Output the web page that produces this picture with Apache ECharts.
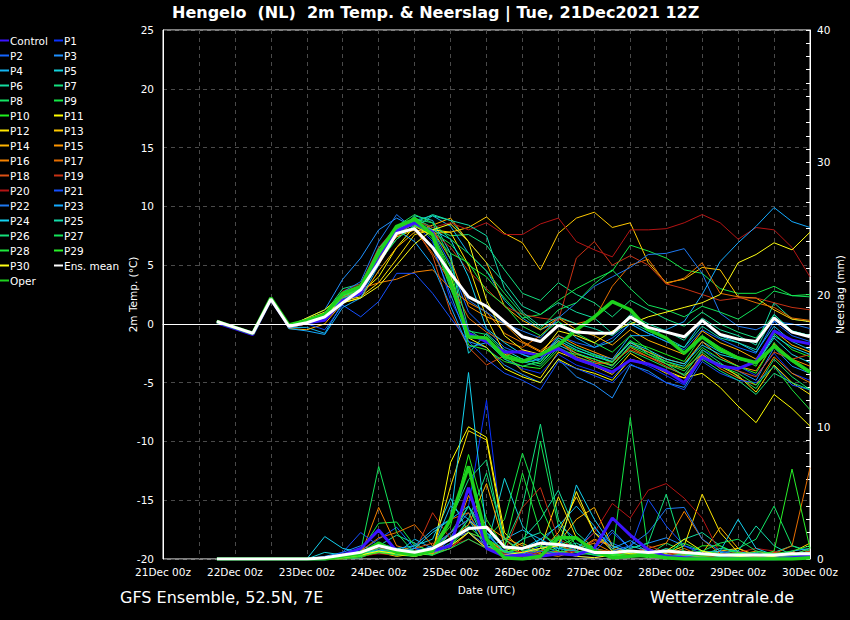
<!DOCTYPE html>
<html><head><meta charset="utf-8">
<script src="https://cdn.jsdelivr.net/npm/echarts@6.0.0/dist/echarts.min.js"></script>
<style>html,body{margin:0;padding:0;background:#000;overflow:hidden}#c{width:850px;height:620px}</style>
</head><body><div id="c"></div>
<script>
// ---- axis / category data ----
const days = ['21Dec','22Dec','23Dec','24Dec','25Dec','26Dec','27Dec','28Dec','29Dec','30Dec'];
const hours = ['00z','06z','12z','18z'];
const leadNulls = [null, null, null]; // 21Dec 00z..12z: no forecast yet (run 21Dec 12Z)

// ---- 2m temperature (°C), 6-hourly from 21Dec 18z to 30Dec 00z ----
const T_Control = [0.1,-0.4,-0.9,2.1,-0.2,0.1,0.3,2.0,2.6,5.8,7.9,8.6,7.8,3.5,-0.8,-1.5,-2.4,-2.4,-2.7,-2.1,-3.0,-3.5,-4.1,-3.1,-3.4,-4.0,-5.0,-2.8,-3.6,-3.8,-3.2,-0.6,-1.4,-1.7];
const T_P1 = [0.2,-0.3,-0.8,2.2,-0.3,0.2,0.6,2.5,3.0,6.5,8.0,8.5,7.0,2.0,-0.9,-1.3,-3.0,-3.8,-4.2,-2.6,-3.5,-4.0,-4.6,-3.0,-3.6,-4.4,-5.2,-2.2,-3.0,-3.6,-4.4,-2.5,-4.2,-4.8];
const T_P2 = [0.2,-0.3,-0.8,2.2,-0.2,0.0,0.3,2.2,3.2,6.0,8.0,9.0,8.0,5.0,1.0,-0.5,-2.0,-2.6,-3.0,-1.0,-1.6,-2.0,-1.2,0.0,-0.8,-1.5,-2.2,-0.5,-1.3,-2.0,-2.5,0.2,-1.0,-1.5];
const T_P3 = [0.1,-0.4,-0.9,2.1,-0.2,0.5,1.2,3.8,5.6,8.0,9.0,8.2,6.5,2.5,-1.5,-2.0,-3.5,-4.3,-5.0,-3.0,-4.5,-5.2,-6.3,-3.5,-4.0,-5.0,-5.4,-2.8,-3.4,-4.0,-4.8,-2.0,-3.6,-4.2];
const T_P4 = [0.2,-0.3,-0.8,2.2,-0.3,-0.3,-0.8,1.8,2.5,5.2,7.8,8.8,9.2,8.3,6.0,4.5,2.0,0.5,-0.5,0.2,-1.2,-2.0,-1.5,0.0,-0.8,-1.5,-2.0,0.2,-1.0,-1.6,-2.4,-0.2,-1.5,-2.2];
const T_P5 = [0.2,-0.3,-0.8,2.2,-0.2,0.1,0.5,2.6,3.0,5.5,7.5,9.2,8.8,6.0,-2.5,-0.8,-2.2,-3.0,-3.4,-1.8,-2.5,-3.0,-3.6,-1.8,-2.4,-3.2,-3.6,-1.5,-2.4,-2.8,-3.4,-1.2,-2.6,-3.3];
const T_P6 = [0.2,-0.3,-0.8,2.2,-0.2,0.2,0.6,2.4,3.0,6.0,7.5,8.6,9.3,8.8,7.0,5.2,3.5,1.5,0.8,1.8,1.0,0.5,-0.8,0.8,0.0,-0.6,-1.4,0.5,-0.5,-1.0,-1.8,1.8,0.4,0.2];
const T_P7 = [0.2,-0.3,-0.8,2.2,-0.1,0.4,0.9,3.0,3.4,6.4,8.1,9.0,8.2,7.5,7.6,6.7,4.6,2.6,2.0,3.5,2.5,1.8,0.6,2.0,1.2,0.4,-0.2,1.0,0.0,-0.7,-1.2,0.8,-0.6,-1.0];
const T_P8 = [0.2,-0.3,-0.8,2.2,-0.2,0.2,0.5,2.3,2.8,5.6,7.9,8.7,7.2,3.0,-0.6,-0.9,-2.4,-3.2,-3.6,-2.0,-2.8,-3.3,-3.8,-2.3,-3.0,-3.7,-4.3,-2.2,-3.3,-4.5,-5.5,-3.0,-4.5,-5.6];
const T_P9 = [0.2,-0.3,-0.8,2.2,-0.2,0.3,0.7,2.6,3.1,6.2,8.0,8.8,7.8,6.8,5.0,4.0,2.2,0.5,0.8,2.0,3.0,3.8,4.5,6.7,6.2,5.6,4.6,4.3,3.0,2.6,2.6,3.2,2.4,2.5];
const T_P10 = [0.2,-0.3,-0.8,2.2,-0.2,0.2,0.6,2.5,3.0,6.0,8.1,9.1,8.0,4.2,-1.0,-1.2,-2.6,-3.0,-3.4,-1.6,-2.3,-2.7,-3.3,-1.5,-2.0,-2.6,-3.2,-1.0,-2.0,-2.8,-3.6,-0.8,-2.2,-2.8];
const T_P11 = [0.2,-0.3,-0.8,2.2,-0.2,0.5,1.2,2.5,2.6,4.0,6.5,8.3,7.5,4.0,-1.2,-2.0,-3.8,-4.5,-5.0,-3.0,-3.8,-4.2,-4.8,-3.0,-3.4,-4.0,-4.6,-4.2,-5.4,-7.0,-8.4,-6.0,-7.2,-8.7];
const T_P12 = [0.2,-0.3,-0.8,2.2,-0.3,0.0,0.5,2.0,2.3,3.5,5.5,7.6,8.0,7.8,5.0,0.5,-2.5,-4.0,-4.6,-2.4,-3.0,-3.6,-4.3,-2.5,-3.4,-4.2,-4.6,-2.6,-3.6,-4.4,-5.8,-3.5,-5.0,-6.0];
const T_P13 = [0.2,-0.3,-0.8,2.2,-0.2,0.3,0.6,2.4,3.0,5.8,7.4,8.0,7.7,7.8,8.2,9.1,7.7,6.9,4.6,7.7,9.0,9.5,8.2,8.6,5.2,3.5,3.8,4.8,4.6,2.3,2.2,1.2,0.4,0.2];
const T_P14 = [0.2,-0.3,-0.8,2.2,-0.4,-0.5,0.0,1.8,2.2,4.5,6.5,7.8,8.4,9.0,7.0,5.2,1.5,0.3,-0.5,0.5,-0.5,-1.0,-1.8,-0.5,-1.4,-2.0,-2.6,-0.6,-1.6,-2.2,-3.0,-0.6,-1.8,-2.4];
const T_P15 = [0.2,-0.3,-0.8,2.2,-0.2,0.1,0.4,2.2,2.7,5.5,7.7,8.5,8.0,5.5,1.5,0.6,0.0,-1.5,-2.3,-1.0,-1.8,-2.4,-3.0,-1.6,-2.4,-3.0,-3.4,-1.5,-2.8,-3.6,-4.0,-1.7,-3.0,-3.6];
const T_P16 = [0.2,-0.3,-0.8,2.2,-0.3,0.0,0.4,2.4,3.0,3.5,3.8,4.4,4.6,3.0,1.8,1.0,-0.8,-1.6,-2.4,-1.5,-2.5,-3.2,-3.5,-2.0,-2.8,-3.4,-3.8,-2.6,-3.8,-4.6,-5.2,-2.8,-4.2,-5.0];
const T_P17 = [0.2,-0.3,-0.8,2.2,-0.2,0.3,0.8,2.6,3.2,6.4,8.0,8.0,6.0,3.5,0.5,-0.7,-1.5,-2.0,-1.0,0.5,0.0,0.4,3.2,5.0,5.5,3.4,3.9,5.2,2.6,2.3,1.8,1.4,0.5,0.3];
const T_P18 = [0.2,-0.3,-0.8,2.2,-0.2,0.1,0.5,2.3,2.8,5.0,7.5,8.2,5.8,1.0,-2.0,-3.5,-2.7,-2.2,-2.8,-1.4,-2.8,-3.4,-3.2,-2.2,-2.8,-3.6,-4.4,-2.8,-3.5,-4.0,-4.5,-2.4,-3.0,-2.6];
const T_P19 = [0.2,-0.3,-0.8,2.2,-0.2,0.2,0.6,2.5,3.0,6.2,8.2,8.6,7.8,6.5,4.5,3.0,1.5,0.8,0.5,0.3,5.6,7.0,5.0,5.8,5.0,3.4,3.0,2.5,2.0,2.2,2.2,1.8,1.4,1.2];
const T_P20 = [0.2,-0.3,-0.8,2.2,-0.2,0.3,0.8,2.8,3.4,6.5,8.3,8.8,8.2,8.6,8.0,8.6,7.6,7.6,8.5,9.0,7.0,6.3,5.7,8.0,8.0,8.1,8.6,9.3,8.6,7.2,8.2,8.0,6.5,4.0];
const T_P21 = [0.2,-0.3,-0.8,2.2,-0.2,0.0,-0.5,1.6,0.6,1.9,4.3,4.3,2.6,0.5,-1.5,-3.0,-4.2,-4.8,-5.6,-3.2,-3.8,-4.4,-5.0,-3.4,-4.2,-5.0,-5.6,-3.2,-4.2,-4.8,-5.0,-3.6,-5.2,-5.6];
const T_P22 = [0.2,-0.3,-0.8,2.2,-0.2,0.2,0.6,2.7,3.6,7.0,9.3,8.0,6.5,4.5,2.0,1.0,0.0,-0.6,-1.2,0.5,1.8,3.2,4.0,4.8,5.9,6.0,6.4,4.3,0.9,-0.2,-0.5,0.2,0.0,-0.4];
const T_P23 = [0.2,-0.3,-0.8,2.2,-0.4,-0.6,-0.9,1.4,2.2,5.0,8.0,7.0,5.0,1.5,-2.0,-1.6,-2.8,-3.3,-3.0,-1.2,-2.0,-2.6,-3.0,-1.0,-1.0,-0.5,0.2,2.5,5.3,6.9,8.3,9.9,8.7,8.2];
const T_P24 = [0.2,-0.3,-0.8,2.2,-0.2,0.2,0.5,2.2,2.8,5.4,7.2,8.4,8.0,7.2,4.0,-0.4,-1.6,-2.6,-3.2,-1.4,-2.2,-2.8,-3.2,-1.6,-2.2,-3.0,-3.4,-1.8,-2.6,-3.0,-3.4,-1.0,-2.0,-2.6];
const T_P25 = [0.2,-0.3,-0.8,2.2,-0.2,0.1,0.5,2.4,2.9,6.0,7.8,8.2,9.2,8.8,8.4,7.5,3.0,1.0,-0.2,0.6,0.0,-0.4,-1.0,0.2,-0.6,-1.2,-2.0,-0.2,-1.2,-1.6,-2.2,0.8,-0.6,-1.0];
const T_P26 = [0.2,-0.3,-0.8,2.2,-0.2,0.2,0.5,2.5,3.0,6.2,8.0,8.9,8.6,5.5,-0.5,-1.5,-3.0,-3.6,-3.2,-1.2,-2.0,-2.6,-3.2,-1.4,-2.6,-3.4,-4.4,-3.0,-4.0,-4.8,-6.0,-4.2,-5.0,-5.6];
const T_P27 = [0.2,-0.3,-0.8,2.2,-0.1,0.3,0.7,2.6,3.2,6.4,8.3,9.3,8.6,7.2,6.0,4.5,2.6,0.8,-0.4,1.2,1.8,3.4,4.6,3.0,1.6,1.2,0.6,1.5,1.0,0.4,1.4,2.8,2.4,2.3];
const T_P28 = [0.2,-0.3,-0.8,2.2,-0.2,0.2,0.4,2.2,2.6,5.2,7.2,8.4,7.6,6.0,5.2,2.8,1.6,-0.2,-1.0,0.2,-0.8,-1.6,-2.4,-1.0,-2.2,-3.4,-4.0,-2.4,-3.6,-4.2,-5.2,-3.6,-5.6,-7.3];
const T_P29 = [0.2,-0.3,-0.8,2.2,-0.2,0.2,0.6,2.4,2.9,5.8,7.9,8.6,7.6,4.8,-1.8,-2.2,-3.2,-3.6,-3.8,-2.2,-2.6,-3.0,-3.5,-1.9,-2.6,-3.2,-3.8,-2.0,-3.0,-3.6,-4.2,-1.6,-3.2,-4.2];
const T_P30 = [0.2,-0.3,-0.8,2.2,-0.2,0.4,1.0,1.8,2.2,3.2,5.0,6.8,8.0,8.5,7.0,2.0,-1.0,-2.2,-2.6,-0.6,-1.0,-1.6,-0.6,0.0,0.6,1.0,1.4,1.8,2.5,5.2,5.9,6.9,6.3,7.8];
const T_Oper = [0.2,-0.3,-0.8,2.2,-0.1,0.3,0.8,2.6,3.2,6.0,8.3,8.9,7.6,3.5,-1.1,-1.2,-2.8,-3.2,-2.6,-1.8,-0.5,0.6,1.9,1.2,-0.5,-1.2,-2.5,-1.1,-2.2,-2.9,-3.3,-1.9,-3.1,-4.1];
const T_Mean = [0.2,-0.3,-0.8,2.1,-0.2,0.1,0.6,1.8,2.9,5.2,7.7,8.1,6.5,4.3,2.3,1.5,0.2,-1.1,-1.5,-0.1,-0.7,-0.8,-0.8,0.6,-0.3,-0.7,-1.1,0.3,-0.9,-1.3,-1.5,0.5,-0.7,-1.1];

// ---- precipitation (mm / 6h), same time steps ----
const R_Control = [0,0,0,0,0,0,0,0.3,0.8,2.2,0.6,0.4,0.6,1.0,5.4,0.8,0.2,0.3,0.2,0.4,0.3,0.8,3.1,1.8,0.7,0.2,0.1,0,0,0,0,0,0.1,0.2];
const R_P1 = [0,0,0,0,0,0,0,0.2,0.5,1.0,0.8,0.5,0.3,1.5,4.0,12.0,0.5,0.2,0.3,0.6,0.2,0.1,0.4,0.6,0.3,0.2,0.1,0,0.1,0,0,0.2,0.3,0.5];
const R_P2 = [0,0,0,0,0,0,0.1,0.3,0.6,1.5,2.4,0.8,0.4,1.0,2.5,1.8,0.6,0.4,1.0,0.5,0.8,2.0,1.2,0.6,0.4,0.5,0.3,0.1,0,0,0.2,0.3,0.1,0.2];
const R_P3 = [0,0,0,0,0,0,0.2,0.5,1.0,0.6,0.3,0.5,1.0,2.0,3.5,1.0,0.4,0.8,1.2,2.6,1.5,0.8,2.2,0.8,1.2,1.6,1.0,0.6,0.5,0.2,0.1,0.3,0.2,0.4];
const R_P4 = [0,0,0,0,0,0,0,0.2,0.8,0.5,0.4,1.5,0.8,4.0,3.0,0.8,1.5,2.2,1.5,2.5,4.0,2.5,0.6,0.3,0.8,0.2,0.1,0.2,0.5,0.6,0.2,0.1,0,0.3];
const R_P5 = [0,0,0,0,0,0,0.5,0.3,0.6,0.4,0.5,1.0,1.5,4.6,2.0,0.8,6.1,2.5,1.0,0.8,0.5,0.3,0.2,1.0,0.6,0.3,0.1,0.1,0.3,0.5,0.4,0.1,0.2,0.6];
const R_P6 = [0,0,0,0,0,0,0,0.2,0.3,1.0,1.8,1.2,0.4,2.0,3.0,1.5,0.5,1.5,3.0,5.2,2.0,0.8,0.5,0.3,0.6,0.2,1.5,2.0,1.0,0.3,0.2,0.5,1.0,0.6];
const R_P7 = [0,0,0,0,0,0,0,0.1,0.2,0.8,0.6,0.4,0.5,3.0,6.0,7.5,1.0,4.0,10.2,3.0,1.0,0.5,0.3,0.2,0.4,0.1,0.3,0.1,0,0.2,0.3,0.1,0.2,0.3];
const R_P8 = [0,0,0,0,0,0,0,0,0.1,0.6,0.3,0.2,0.5,1.0,3.0,2.0,0.5,0.8,0.6,1.8,0.8,0.4,0.2,0.5,0.3,1.2,0.6,0.4,0.2,0.8,1.5,4.0,1.0,0.5];
const R_P9 = [0,0,0,0,0,0,0,0.3,0.6,2.7,2.8,1.0,0.6,2.0,4.0,1.5,3.0,8.0,4.0,1.0,0.5,0.8,0.3,10.7,0.5,0.2,0.4,0.3,0.2,0.1,0,0.2,0.4,0.2];
const R_P10 = [0,0,0,0,0,0,0,0,0.2,0.5,0.4,0.6,0.8,2.5,7.9,3.0,0.8,0.5,0.6,0.4,1.6,0.8,0.2,0.3,0.1,0.2,0.3,1.0,1.0,0.4,0.2,0.1,0.3,0.6];
const R_P11 = [0,0,0,0,0,0,0,0.1,0.3,0.6,0.4,0.5,0.3,7.3,10.0,9.2,2.0,0.6,0.3,0.5,0.2,0.1,0.3,0.6,0.2,0.1,0.3,0.6,0.2,0.1,0,0,0.1,0.2];
const R_P12 = [0,0,0,0,0,0,0,0.1,0.2,0.5,0.2,0.4,0.6,5.5,9.7,9.0,1.5,0.4,0.8,4.7,1.6,0.5,0.3,0.2,0.6,0.4,1.0,4.9,2.0,0.5,0.2,0.1,0.3,0.4];
const R_P13 = [0,0,0,0,0,0,0,0.2,0.4,0.8,0.5,0.4,0.8,2.0,3.0,1.5,0.6,1.2,0.5,2.0,4.7,2.0,0.8,0.4,0.3,0.6,0.2,0.3,0.6,0.8,0.3,0.2,0.5,1.2];
const R_P14 = [0,0,0,0,0,0,0,0.1,0.5,0.8,0.4,0.3,0.6,1.5,2.6,5.7,1.0,0.4,0.8,1.2,3.0,3.9,1.0,0.4,0.2,0.3,0.6,0.4,2.4,0.8,0.2,0.4,0.2,0.5];
const R_P15 = [0,0,0,0,0,0,0,0.2,0.4,0.6,0.8,0.5,0.8,1.0,4.8,2.5,1.6,1.0,0.4,0.2,0.6,1.5,1.0,0.4,0.2,0.6,0.3,0.2,0.1,0.3,0.6,0.3,0.2,0.6];
const R_P16 = [0,0,0,0,0,0,0,0,0.3,3.9,1.0,0.6,0.4,0.8,2.0,1.0,0.3,0.5,0.3,0.4,0.8,1.2,0.5,0.2,0.8,1.2,3.6,1.5,0.4,0.2,0.1,0.3,0.5,0.2];
const R_P17 = [0,0,0,0,0,0,0,0.1,0.6,1.6,2.0,2.6,1.0,3.0,3.5,1.0,0.3,0.2,0.4,0.6,0.3,0.8,0.5,0.3,0.4,0.3,0.8,0.2,0.3,0.1,0.2,0.4,1.0,6.9];
const R_P18 = [0,0,0,0,0,0,0,0.1,0.3,0.6,0.5,0.8,1.2,0.8,2.0,1.5,0.5,0.3,0.6,1.0,0.6,1.4,1.0,0.5,0.8,0.3,0.5,0.2,0.3,0.1,0.2,0.5,0.3,0.8];
const R_P19 = [0,0,0,0,0,0,0,0.2,0.4,0.8,0.6,0.5,3.5,1.5,2.0,0.8,0.5,3.9,5.4,1.5,0.8,0.6,0.6,0.3,1.0,0.5,0.2,0.3,0.1,0.2,0.4,0.2,0.3,0.6];
const R_P20 = [0,0,0,0,0,0,0,0,0.2,0.4,0.3,0.5,0.8,1.0,1.5,0.8,0.4,0.6,0.3,0.4,0.6,2.0,4.2,3.1,5.2,5.7,4.6,3.1,0.4,0.5,0.8,0.6,0.2,0.3];
const R_P21 = [0,0,0,0,0,0,0,0.5,2.0,1.0,0.6,0.3,0.8,2.0,3.0,2.0,0.5,0.3,0.6,0.4,0.3,0.5,2.0,0.8,4.5,2.5,1.0,0.4,0.3,0.2,0.1,0.3,0.2,0.4];
const R_P22 = [0,0,0,0,0,0,0.1,0.3,0.5,0.7,0.5,0.8,0.6,1.5,2.0,1.0,0.6,0.4,0.8,1.4,0.6,0.4,0.6,1.0,2.0,3.8,3.9,1.5,0.6,0.3,0.4,0.2,0.1,0.3];
const R_P23 = [0,0,0,0,0,0,0,0.2,0.4,0.6,0.8,1.0,2.2,3.0,4.0,2.0,0.5,0.3,1.5,0.8,0.6,2.4,0.8,1.4,0.5,0.3,0.2,0.4,0.2,0.1,0.3,0.2,0.6,0.8];
const R_P24 = [0,0,0,0,0,0,1.7,0.8,0.5,0.6,0.3,0.8,2.0,3.0,14.1,2.0,1.0,0.8,1.5,0.6,5.6,3.0,1.0,0.5,0.6,0.3,0.2,0.4,0.6,3.0,0.8,0.3,0.4,0.5];
const R_P25 = [0,0,0,0,0,0,0,0.3,0.5,1.2,0.8,0.6,0.8,1.6,4.0,1.0,0.6,1.5,2.0,0.8,1.2,0.6,0.4,0.6,0.3,0.8,0.4,0.3,0.8,0.6,2.5,1.0,0.3,0.4];
const R_P26 = [0,0,0,0,0,0,0,0.1,0.3,0.8,0.4,0.3,0.5,1.2,3.0,6.5,1.5,0.6,0.8,0.4,1.0,0.6,0.3,0.8,1.2,4.9,0.4,0.3,0.2,0.4,0.5,0.3,0.2,0.5];
const R_P27 = [0,0,0,0,0,0,0,0.2,0.6,7.0,2.0,0.4,0.3,0.8,1.5,0.8,0.6,0.4,8.9,2.5,0.6,0.3,0.2,0.5,0.3,0.2,0.4,0.6,1.2,1.5,0.6,0.4,0.3,0.8];
const R_P28 = [0,0,0,0,0,0,0,0,0.2,0.6,0.4,0.5,0.3,1.0,2.0,1.5,0.8,6.5,2.0,1.0,1.6,0.6,0.3,0.4,0.2,0.5,1.2,0.6,0.4,0.2,0.3,0.4,0.6,1.0];
const R_P29 = [0,0,0,0,0,0,0,0.1,0.2,0.5,0.3,0.4,0.6,1.0,2.5,1.2,0.5,0.8,1.0,0.6,0.3,0.5,0.4,0.2,0.3,0.6,0.4,0.2,0.3,0.5,0.2,0.6,6.8,0.8];
const R_P30 = [0,0,0,0,0,0,0,0.1,0.3,0.6,0.4,0.2,0.5,1.0,2.0,0.8,0.3,0.5,0.8,1.0,5.1,2.0,0.6,0.4,0.3,0.6,1.5,0.6,0.3,0.2,0.1,0.2,0.4,0.3];
const R_Oper = [0,0,0,0,0,0,0,0.2,0.4,1.2,0.5,0.3,0.6,3.0,7.0,1.5,0.1,0,0.2,1.6,1.6,0.6,0.1,0.2,0.3,0.1,0,0,0,0,0,0,0,0.1];
const R_Mean = [0,0,0,0,0,0,0.1,0.3,0.5,1.0,0.7,0.5,0.8,1.5,2.3,2.4,0.9,0.8,1.2,1.1,0.9,0.5,0.5,0.6,0.5,0.6,0.5,0.4,0.3,0.3,0.3,0.3,0.4,0.4];

// ---- member names / colours ----
const memberNames = ['Control','P1','P2','P3','P4','P5','P6','P7','P8','P9','P10','P11','P12','P13','P14','P15','P16','P17','P18','P19','P20','P21','P22','P23','P24','P25','P26','P27','P28','P29','P30','Oper','Ens. mean'];
const memberColors = ['#3c14ff','#0a32ff','#1464ff','#1e90ff','#14b4f0','#14d2dc','#14dca0','#14e080','#14e464','#14e846','#1ef01e','#ffff00','#ffe600','#ffc800','#ffb400','#ff9600','#f58200','#e66e00','#dc5014','#c83214','#b41414','#1450ff','#1e78f0','#14aaff','#14d2f0','#14dcaa','#14e07a','#14e45a','#1ee83c','#28f028','#ffff14','#1ed21e','#ffffff'];
const tempSeries = [T_Control,T_P1,T_P2,T_P3,T_P4,T_P5,T_P6,T_P7,T_P8,T_P9,T_P10,T_P11,T_P12,T_P13,T_P14,T_P15,T_P16,T_P17,T_P18,T_P19,T_P20,T_P21,T_P22,T_P23,T_P24,T_P25,T_P26,T_P27,T_P28,T_P29,T_P30,T_Oper,T_Mean];
const rainSeries = [R_Control,R_P1,R_P2,R_P3,R_P4,R_P5,R_P6,R_P7,R_P8,R_P9,R_P10,R_P11,R_P12,R_P13,R_P14,R_P15,R_P16,R_P17,R_P18,R_P19,R_P20,R_P21,R_P22,R_P23,R_P24,R_P25,R_P26,R_P27,R_P28,R_P29,R_P30,R_Oper,R_Mean];
const legendLeftCol = ['Control','P2','P4','P6','P8','P10','P12','P14','P16','P18','P20','P22','P24','P26','P28','P30','Oper'];
const legendRightCol = ['P1','P3','P5','P7','P9','P11','P13','P15','P17','P19','P21','P23','P25','P27','P29','Ens. mean'];

// ---- build chart ----
const categories = [];
days.forEach((d, i) => hours.forEach(h => { if (i < days.length - 1 || h === '00z') categories.push(d + ' ' + h); }));

const FONT = 'DejaVu Sans';
const series = [];
memberNames.forEach((n, j) => {
  const thick = n === 'Control' ? 3 : n === 'Oper' ? 3.5 : n === 'Ens. mean' ? 3 : 1;
  const z = n === 'Ens. mean' ? 5 : (n === 'Control' || n === 'Oper') ? 4 : 2;
  const base = { name: n, type: 'line', symbol: 'none', color: memberColors[j], silent: true,
    lineStyle: { width: thick, color: memberColors[j] }, z: z, animation: false };
  series.push(Object.assign({}, base, { yAxisIndex: 0, data: leadNulls.concat(tempSeries[j]) },
    n === 'Ens. mean' ? { markLine: { silent: true, symbol: 'none', label: { show: false },
      lineStyle: { color: '#ffffff', type: 'solid', width: 1 }, data: [{ yAxis: 0 }], animation: false } } : {}));
  series.push(Object.assign({}, base, { yAxisIndex: 1, data: leadNulls.concat(rainSeries[j]) }));
});

const legendCommon = { orient: 'vertical', top: 33, padding: 0, itemGap: 0, icon: 'rect', itemWidth: 9, itemHeight: 2,
  selectedMode: false, textStyle: { color: '#fff', fontSize: 10.5, fontFamily: FONT, lineHeight: 15, padding: [0,0,0,-4] } };

const chart = echarts.init(document.getElementById('c'), null, { renderer: 'svg' });
chart.setOption({
  backgroundColor: '#000',
  animation: false,
  title: { text: 'Hengelo  (NL)  2m Temp. & Neerslag | Tue, 21Dec2021 12Z', left: 172, top: 4, padding: 0,
    textStyle: { color: '#fff', fontSize: 16, fontWeight: 'bold', fontFamily: FONT } },
  legend: [
    Object.assign({ left: 0, data: legendLeftCol }, legendCommon),
    Object.assign({ left: 54, data: legendRightCol }, legendCommon)
  ],
  grid: { left: 163, right: 40, top: 30, bottom: 61, containLabel: false, outerBoundsMode: 'none',
    show: true, borderColor: '#fff', borderWidth: 1 },
  xAxis: {
    type: 'category', data: categories, boundaryGap: false,
    axisLine: { lineStyle: { color: '#fff' } }, axisTick: { show: false },
    axisLabel: { interval: 3, color: '#fff', fontSize: 10.5, fontFamily: FONT, margin: 7 },
    splitLine: { show: true, interval: 1, lineStyle: { color: '#4a4a4a', type: [4, 4] } },
    name: 'Date (UTC)', nameLocation: 'middle', nameGap: 25, nameMoveOverlap: false,
    nameTextStyle: { color: '#fff', fontSize: 10.5, fontFamily: FONT }
  },
  yAxis: [
    { type: 'value', min: -20, max: 25, interval: 5, position: 'left',
      axisLine: { show: true, lineStyle: { color: '#fff' } },
      axisTick: { show: false },
      axisLabel: { color: '#fff', fontSize: 10.5, fontFamily: FONT, margin: 9 },
      splitLine: { show: true, lineStyle: { color: '#4a4a4a', type: [4, 4] } },
      name: '2m Temp. (°C)', nameLocation: 'middle', nameRotate: 90, nameGap: 25, nameMoveOverlap: false,
      nameTextStyle: { color: '#fff', fontSize: 10.5, fontFamily: FONT } },
    { type: 'value', min: 0, max: 40, interval: 10, position: 'right',
      axisLine: { show: true, lineStyle: { color: '#fff' } },
      axisTick: { show: true, inside: true, length: 4, lineStyle: { color: '#fff' } },
      minorTick: { show: true, splitNumber: 10, length: 4, lineStyle: { color: '#fff' } },
      axisLabel: { color: '#fff', fontSize: 10.5, fontFamily: FONT, margin: 7 },
      splitLine: { show: false },
      name: 'Neerslag (mm)', nameLocation: 'middle', nameRotate: 90, nameGap: 24, nameMoveOverlap: false,
      nameTextStyle: { color: '#fff', fontSize: 10.5, fontFamily: FONT } }
  ],
  graphic: [
    { type: 'text', left: 120, top: 589, style: { text: 'GFS Ensemble, 52.5N, 7E', fill: '#fff', font: '16px "DejaVu Sans"' } },
    { type: 'text', left: 650, top: 589, style: { text: 'Wetterzentrale.de', fill: '#fff', font: '16px "DejaVu Sans"' } }
  ],
  series: series
});
</script>
</body></html>
